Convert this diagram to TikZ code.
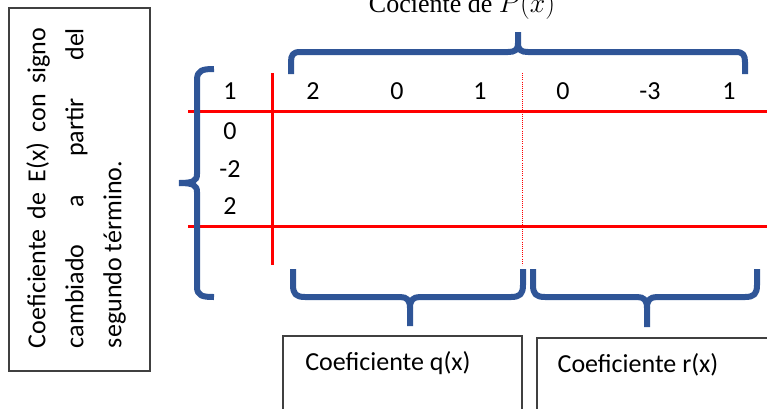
\documentclass[tikz,border=0pt]{standalone}
\usepackage{fontspec}
\setmainfont{Carlito}
\newfontfamily\titlefont{Liberation Serif}
\usetikzlibrary{positioning}
\definecolor{bracecol}{RGB}{47,85,151}
\definecolor{boxgray}{RGB}{64,64,64}

\begin{document}
\begin{tikzpicture}[
        x=0.75pt, y=-0.75pt,
        every node/.style={font=\fontsize{19.5}{28.5}\selectfont, inner sep=0pt},
        redline/.style={draw=red, line width=2.25pt},
        sepline/.style={draw=red, line width=0.6pt, densely dotted},
        brace/.style={draw=bracecol, line width=4.5pt, line join=round},
        textbox/.style={draw=boxgray, line width=1.1pt}
    ]
        \clip (0,0) rectangle (767,408);

        % left box, turned text
        \draw[textbox] (9,8) rectangle (150,371);
        \node[rotate=90, text width=240pt, align=justify] (etext) at (76,188)
            {Coeficiente de E(x) con signo\linebreak cambiado a partir del\linebreak segundo término.};

        % title
        \node[anchor=base, font=\fontsize{19.5}{24}\titlefont] (title) at (462,12) {Cociente de $P(x)$};

        % coefficients
        \node (e0) at (230,91) {1};
        \foreach \v/\y [count=\i] in {0/131, -2/169, 2/206}
            \node (e\i) at (230,\y) {\v};
        \foreach \v/\x [count=\i] in {2/313, 0/397, 1/480, 0/563, -3/650, 1/729}
            \node (p\i) at (\x,91) {\v};

        % grid
        \draw[redline] (188,111) -- (767,111);
        \draw[redline] (188,226) -- (767,226);
        \draw[redline] (272,73) -- (272,265);
        \draw[sepline] (522,73) -- (522,265);

        % braces
        \draw[brace] (214,69) .. controls (203,69) and (197,70) .. (197,80) -- (197,174)
            .. controls (197,181) and (193,183) .. (179,183);
        \draw[brace] (214,297) .. controls (203,297) and (197,296) .. (197,287) -- (197,192)
            .. controls (197,185) and (193,183) .. (179,183);

        \draw[brace] (291,74) -- (291,62) .. controls (291,55) and (293,52) .. (300,52) -- (508,52)
            .. controls (515,52) and (518,50) .. (518,43) -- (518,32);
        \draw[brace] (745,74) -- (745,62) .. controls (745,55) and (743,52) .. (736,52) -- (528,52)
            .. controls (521,52) and (518,50) .. (518,43);

        \draw[brace] (293,269) -- (293,285) .. controls (293,294) and (296,297) .. (305,297) -- (400,297)
            .. controls (407,297) and (410,300) .. (410,308) -- (410,326);
        \draw[brace] (523,269) -- (523,285) .. controls (523,294) and (520,297) .. (511,297) -- (420,297)
            .. controls (413,297) and (410,300) .. (410,308);

        \draw[brace] (533,269) -- (533,285) .. controls (533,294) and (536,297) .. (545,297) -- (637,297)
            .. controls (644,297) and (647,300) .. (647,308) -- (647,327);
        \draw[brace] (757,269) -- (757,285) .. controls (757,294) and (754,297) .. (745,297) -- (657,297)
            .. controls (650,297) and (647,300) .. (647,308);

        % result boxes
        \draw[textbox] (283,336) rectangle (522,420);
        \node (qlab) at (388,363) {Coeficiente q(x)};
        \draw[textbox] (537,338) rectangle (780,420);
        \node (rlab) at (638,365) {Coeficiente r(x)};
    \end{tikzpicture}
\end{document}
